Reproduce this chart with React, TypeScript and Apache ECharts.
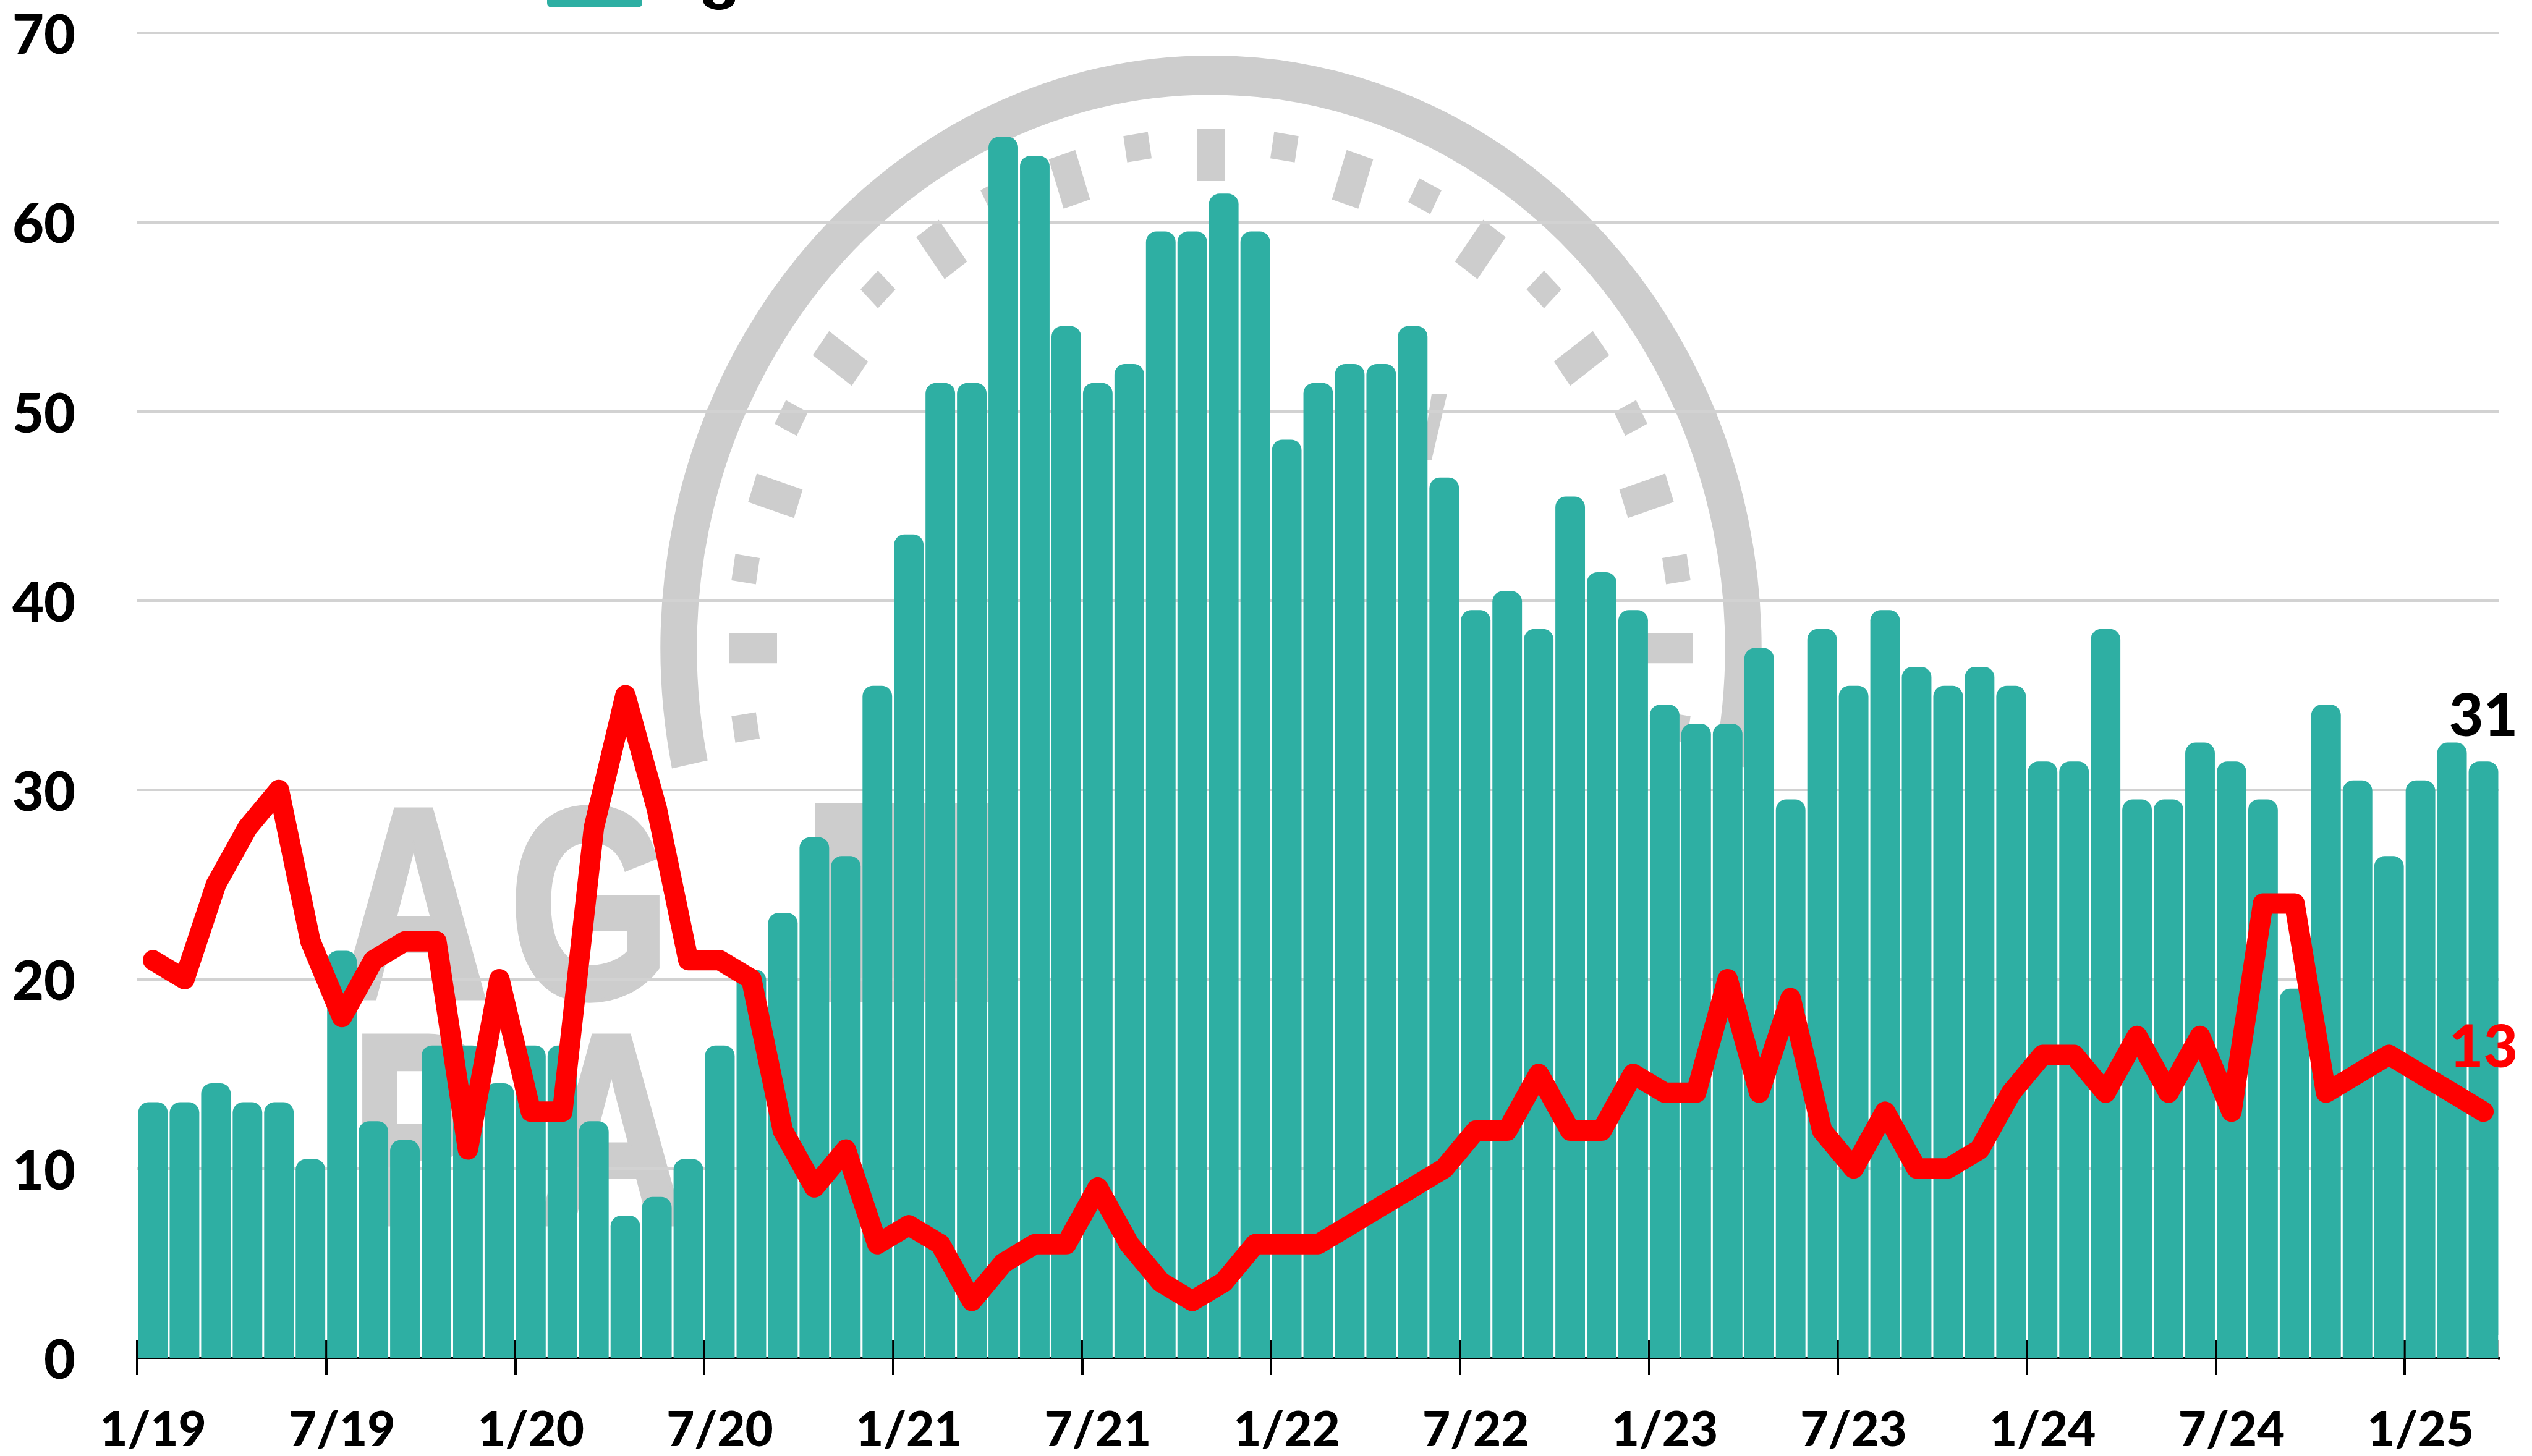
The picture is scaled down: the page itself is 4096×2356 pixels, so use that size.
import React, { useEffect, useRef } from "react";
import * as echarts from "echarts";

const years = ["19", "20", "21", "22", "23", "24", "25"];
const months = Array.from({ length: 12 }, (_, i) => i + 1);
const categories: string[] = years.flatMap((y) => months.map((m) => `${m}/${y}`)).slice(0, 75);

// Integer monthly values, as labelled by the reference's end labels.
const barValues = [
  13, 13, 14, 13, 13, 10, 21, 12, 11, 16, 16, 14,
  16, 16, 12, 7, 8, 10, 16, 20, 23, 27, 26, 35,
  43, 51, 51, 64, 63, 54, 51, 52, 59, 59, 61, 59,
  48, 51, 52, 52, 54, 46, 39, 40, 38, 45, 41, 39,
  34, 33, 33, 37, 29, 38, 35, 39, 36, 35, 36, 35,
  31, 31, 38, 29, 29, 32, 31, 29, 19, 34, 30, 26,
  30, 32, 31,
];
const lineValues = [
  21, 20, 25, 28, 30, 22, 18, 21, 22, 22, 11, 20,
  13, 13, 28, 35, 29, 21, 21, 20, 12, 9, 11, 6,
  7, 6, 3, 5, 6, 6, 9, 6, 4, 3, 4, 6,
  6, 6, 7, 8, 9, 10, 12, 12, 15, 12, 12, 15,
  14, 14, 20, 14, 19, 12, 10, 13, 10, 10, 11, 14,
  16, 16, 14, 17, 14, 17, 13, 24, 24, 14, 15, 16,
  15, 14, 13,
];
// In the reference each bar's rounded cap rises half a unit above its value.
const BAR_CAP = 0.5;

const TEAL = "#2EAFA3";
const RED = "#FF0000";
const GREY = "#CDCDCD";
const FONT = "Lato";
const WEIGHT = 900;

function clockDashes() {
  const out: any[] = [];
  for (let k = -11; k <= 11; k++) {
    const long = k % 2 === 0;
    const w = long ? 45 : 40;
    const h = long ? 78 : 40;
    const r = long ? 741 : 762;
    out.push({
      type: "rect",
      z: -1,
      rotation: (k * 9 * Math.PI) / 180,
      shape: { x: -w / 2, y: -r - h / 2, width: w, height: h },
      style: { fill: GREY },
    });
  }
  return out;
}

function letter(text: string, x: number, y: number) {
  return {
    type: "text",
    z: -1,
    x,
    y,
    scaleX: 0.76,
    style: {
      text,
      fill: GREY,
      stroke: GREY,
      lineWidth: 12,
      font: `bold 436px "Liberation Sans"`,
      textAlign: "center",
      textVerticalAlign: "middle",
    },
  };
}

const option: any = {
  animation: false,
  backgroundColor: "#ffffff",
  textStyle: { fontFamily: FONT },
  grid: { left: 222, right: 53, top: 53, bottom: 159, containLabel: false },
  graphic: {
    elements: [
      {
        type: "group",
        z: -1,
        x: 1959,
        y: 1049,
        scaleY: 1.077,
        children: [
          {
            type: "arc",
            z: -1,
            shape: {
              cx: 0,
              cy: 0,
              r: 861,
              startAngle: (168.3 * Math.PI) / 180,
              endAngle: (11.7 * Math.PI) / 180,
              clockwise: true,
            },
            style: { stroke: GREY, lineWidth: 59, fill: "none" },
          },
          ...clockDashes(),
        ],
      },
      letter("A", 669, 1461),
      letter("G", 954, 1461),
      letter("P", 679, 1827),
      letter("A", 989, 1827),
      { type: "rect", z: -1, shape: { x: 1318, y: 1300, width: 300, height: 321 }, style: { fill: GREY } },
      { type: "polygon", z: -1, shape: { points: [[2316, 637], [2341, 637], [2316, 744], [2300, 744]] }, style: { fill: GREY } },
      // Remains of the legend, cut off by the top edge of the picture.
      { type: "rect", z: 5, shape: { x: 885, y: -20, width: 154, height: 32, r: 7 }, style: { fill: TEAL } },
      { type: "ellipse", z: 5, shape: { cx: 1163, cy: 0, rx: 26, ry: 16 }, style: { fill: "#000000" } },
      { type: "ellipse", z: 6, shape: { cx: 1163, cy: 0, rx: 10, ry: 7 }, style: { fill: "#ffffff" } },
      // The category axis always adds a closing tick; the reference has none.
      { type: "rect", z: 50, shape: { x: 4041.5, y: 2160, width: 12, height: 35 }, style: { fill: "#ffffff" } },
      { type: "rect", z: 50, shape: { x: 4036, y: 2199.5, width: 18, height: 35 }, style: { fill: "#ffffff" } },
    ],
  },
  xAxis: [
    {
      type: "category",
      data: categories,
      boundaryGap: true,
      axisLine: { show: true, lineStyle: { color: "#000000", width: 4 } },
      axisTick: { show: true, interval: 5, length: 28, lineStyle: { color: "#000000", width: 4 } },
      axisLabel: { show: true, interval: 5, margin: 74, fontSize: 78, fontWeight: WEIGHT, color: "#000000", fontFamily: FONT, hideOverlap: false },
      splitLine: { show: false },
    },
    {
      type: "category",
      data: categories,
      position: "bottom",
      boundaryGap: true,
      axisLine: { show: false },
      axisTick: { show: true, inside: true, interval: 5, length: 28, lineStyle: { color: "#000000", width: 4 } },
      axisLabel: { show: false },
      splitLine: { show: false },
    },
  ],
  yAxis: {
    type: "value",
    min: 0,
    max: 70,
    interval: 10,
    axisLine: { show: false },
    axisTick: { show: false },
    axisLabel: { margin: 100, fontSize: 88, fontWeight: WEIGHT, color: "#000000", fontFamily: FONT },
    splitLine: { show: true, lineStyle: { color: "#D2D2D2", width: 4 } },
  },
  series: [
    {
      type: "bar",
      xAxisIndex: 0,
      barCategoryGap: "6%",
      itemStyle: { color: TEAL, borderRadius: [17, 17, 0, 0] },
      data: barValues.map((v, i) =>
        i === barValues.length - 1
          ? {
              value: v + BAR_CAP,
              label: { show: true, position: "top", distance: 31, formatter: String(v), fontSize: 96, fontWeight: WEIGHT, color: "#000000", fontFamily: FONT },
            }
          : v + BAR_CAP
      ),
    },
    {
      type: "line",
      xAxisIndex: 0,
      symbol: "none",
      showSymbol: true,
      showAllSymbol: true,
      smooth: false,
      z: 3,
      lineStyle: { color: RED, width: 33, join: "round", cap: "round" },
      itemStyle: { color: RED },
      data: lineValues.map((v, i) =>
        i === lineValues.length - 1
          ? {
              value: v,
              symbol: "circle",
              symbolSize: 1,
              label: { show: true, position: "top", distance: 61, formatter: String(v), fontSize: 96, fontWeight: WEIGHT, color: RED, fontFamily: FONT },
            }
          : v
      ),
    },
  ],
};

export default function App() {
  const ref = useRef<HTMLDivElement>(null);
  useEffect(() => {
    document.body.style.margin = "0";
    const chart = echarts.init(ref.current!, undefined, { renderer: "svg" });
    chart.setOption(option);
    return () => chart.dispose();
  }, []);
  return <div ref={ref} style={{ width: 4096, height: 2356, position: "fixed", left: 0, top: 0 }} />;
}
